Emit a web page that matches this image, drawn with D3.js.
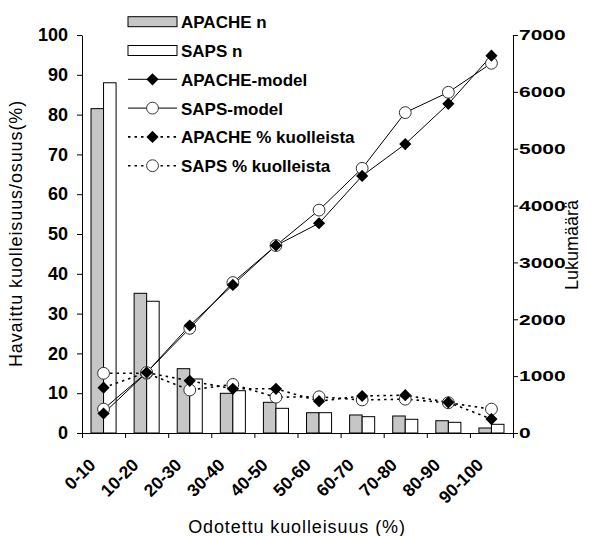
<!DOCTYPE html>
<html><head><meta charset="utf-8">
<script src="https://cdn.jsdelivr.net/npm/d3@7"></script>
<style>
html,body{margin:0;padding:0;background:#fff;}
svg{display:block;font-family:"Liberation Sans",Arial,sans-serif;}
</style></head>
<body><svg id="c" width="594" height="536"></svg>
<script>
const categories = ["0-10","10-20","20-30","30-40","40-50","50-60","60-70","70-80","80-90","90-100"];
const apacheN = [5705, 2457, 1131, 698, 540, 357, 317, 299, 216, 88];
const sapsN = [6160, 2317, 950, 744, 434, 357, 287, 241, 188, 153];
const apacheModel = [4.9, 15.2, 27.0, 37.2, 47.1, 52.7, 64.6, 72.6, 82.7, 94.8];
const sapsModel = [6.0, 15.2, 26.3, 37.8, 47.1, 56.0, 66.5, 80.5, 85.6, 92.9];
const apacheObs = [11.4, 15.2, 13.1, 11.1, 11.1, 8.0, 9.3, 9.5, 7.7, 3.5];
const sapsObs = [15.0, 15.0, 10.8, 12.2, 9.0, 9.1, 8.3, 8.5, 7.6, 6.0];
const leftTicks = [0,10,20,30,40,50,60,70,80,90,100];
const rightTicks = [0,1000,2000,3000,4000,5000,6000,7000];
const legendLabels = ["APACHE n","SAPS n","APACHE-model","SAPS-model","APACHE % kuolleista","SAPS % kuolleista"];

const svg = d3.select("#c");
svg.append("rect").attr("width",594).attr("height",536).attr("fill","#fff");
const L = 82, R = 513, T = 35, B = 433;

const x = d3.scaleBand().domain(categories).range([L,R]).padding(0);
const xb = d3.scaleLinear().domain([0,categories.length]).range([L,R]);
const inner = d3.scaleBand().domain(["a","s"]).range([0,x.bandwidth()]).paddingInner(0).paddingOuter(0.72);
const yL = d3.scaleLinear().domain([0,100]).range([B,T]);
const yR = d3.scaleLinear().domain([0,7000]).range([B,T]);

// bars
const g = svg.append("g");
categories.forEach((c,i)=>{
  g.append("rect").attr("x",x(c)+inner("a")).attr("y",yR(apacheN[i]))
   .attr("width",inner.bandwidth()).attr("height",B-yR(apacheN[i]))
   .attr("fill","#c6c6c6").attr("stroke","#000").attr("stroke-width",1);
  g.append("rect").attr("x",x(c)+inner("s")).attr("y",yR(sapsN[i]))
   .attr("width",inner.bandwidth()).attr("height",B-yR(sapsN[i]))
   .attr("fill","#fff").attr("stroke","#000").attr("stroke-width",1);
});

// axes
const axL = svg.append("g").attr("transform",`translate(${L},0)`)
  .call(d3.axisLeft(yL).tickValues(leftTicks).tickSize(5).tickPadding(9).tickSizeOuter(0));
axL.selectAll("text").attr("font-size",18).attr("font-weight","bold").attr("font-family","Liberation Sans, Arial").attr("fill","#000");
const axR = svg.append("g").attr("transform",`translate(${R},0)`)
  .call(d3.axisRight(yR).tickValues(rightTicks).tickFormat(d3.format("d")).tickSize(5).tickPadding(0).tickSizeOuter(0));
axR.selectAll("text").attr("font-size",15).attr("font-weight","bold").attr("font-family","Liberation Sans, Arial").attr("fill","#000")
  .attr("x",0).attr("transform","translate(6,0) scale(1.4,1)");
const axB = svg.append("g").attr("transform",`translate(0,${B})`)
  .call(d3.axisBottom(xb).ticks(10).tickSize(5).tickSizeOuter(0).tickFormat(""));
const axC = svg.append("g").attr("transform",`translate(0,${B})`)
  .call(d3.axisBottom(x).tickSize(0).tickPadding(0));
axC.select(".domain").remove();
axC.selectAll("text").attr("font-size",17.5).attr("font-weight","bold").attr("font-family","Liberation Sans, Arial")
  .attr("fill","#000").attr("text-anchor","end").attr("y",0).attr("dy",0)
  .attr("transform","translate(-7,33) rotate(-45)");
svg.selectAll(".domain, .tick line").attr("stroke","#000").attr("stroke-width",1);

// lines
const cx = c => x(c)+x.bandwidth()/2;
const line = d3.line().x(d=>cx(d[0])).y(d=>yL(d[1]));
const pts = arr => categories.map((c,i)=>[c,arr[i]]);
const dash = "2.5,4";
svg.append("path").datum(pts(apacheObs)).attr("d",line).attr("fill","none").attr("stroke","#000").attr("stroke-width",1.6).attr("stroke-dasharray",dash);
svg.append("path").datum(pts(sapsObs)).attr("d",line).attr("fill","none").attr("stroke","#000").attr("stroke-width",1.6).attr("stroke-dasharray",dash);
svg.append("path").datum(pts(sapsModel)).attr("d",line).attr("fill","none").attr("stroke","#000").attr("stroke-width",1);
svg.append("path").datum(pts(apacheModel)).attr("d",line).attr("fill","none").attr("stroke","#000").attr("stroke-width",1);

const diamond = d3.symbol().type(d3.symbolSquare).size(74);
const circle = d3.symbol().type(d3.symbolCircle).size(110);
function circles(arr){
  svg.append("g").selectAll("path").data(pts(arr)).join("path")
    .attr("d",circle).attr("transform",d=>`translate(${cx(d[0])},${yL(d[1])})`)
    .attr("fill","#fff").attr("stroke","#333").attr("stroke-width",1);
}
function diamonds(arr){
  svg.append("g").selectAll("path").data(pts(arr)).join("path")
    .attr("d",diamond).attr("transform",d=>`translate(${cx(d[0])},${yL(d[1])}) rotate(45)`)
    .attr("fill","#000");
}
circles(sapsObs); diamonds(apacheObs);
circles(sapsModel); diamonds(apacheModel);

// legend
const lg = svg.append("g");
const ly = d3.scaleLinear().domain([0,5]).range([21.7,165.7]);
const lx0 = 128, lx1 = 177, lxm = 152.5;
legendLabels.forEach((t,i)=>{
  const yy = ly(i);
  if(i<2){
    lg.append("rect").attr("x",lx0).attr("y",yy-5).attr("width",lx1-lx0).attr("height",10)
      .attr("fill",i===0?"#c6c6c6":"#fff").attr("stroke","#000");
  } else {
    lg.append("line").attr("x1",lx0).attr("x2",lx1).attr("y1",yy).attr("y2",yy)
      .attr("stroke","#000").attr("stroke-width",i<4?1:1.6).attr("stroke-dasharray",i<4?null:dash);
    if(i%2===0) lg.append("path").attr("d",diamond).attr("transform",`translate(${lxm},${yy}) rotate(45)`).attr("fill","#000");
    else lg.append("path").attr("d",circle).attr("transform",`translate(${lxm},${yy})`).attr("fill","#fff").attr("stroke","#333");
  }
  lg.append("text").attr("x",181).attr("y",yy+6.5).attr("font-size",17).attr("font-weight","bold").attr("fill","#000").text(t);
});

// titles
svg.append("text").attr("transform",`translate(22,${(100+367)/2}) rotate(-90)`).attr("text-anchor","middle")
  .attr("font-size",18).attr("letter-spacing",0.9).attr("fill","#000").text("Havaittu kuolleisuus/osuus(%)");
svg.append("text").attr("transform",`translate(578,245) rotate(-90)`).attr("text-anchor","middle")
  .attr("font-size",18).attr("fill","#000").text("Lukumäärä");
svg.append("text").attr("x",297).attr("y",533).attr("text-anchor","middle")
  .attr("font-size",18).attr("letter-spacing",0.9).attr("fill","#000").text("Odotettu kuolleisuus (%)");
</script></body></html>
